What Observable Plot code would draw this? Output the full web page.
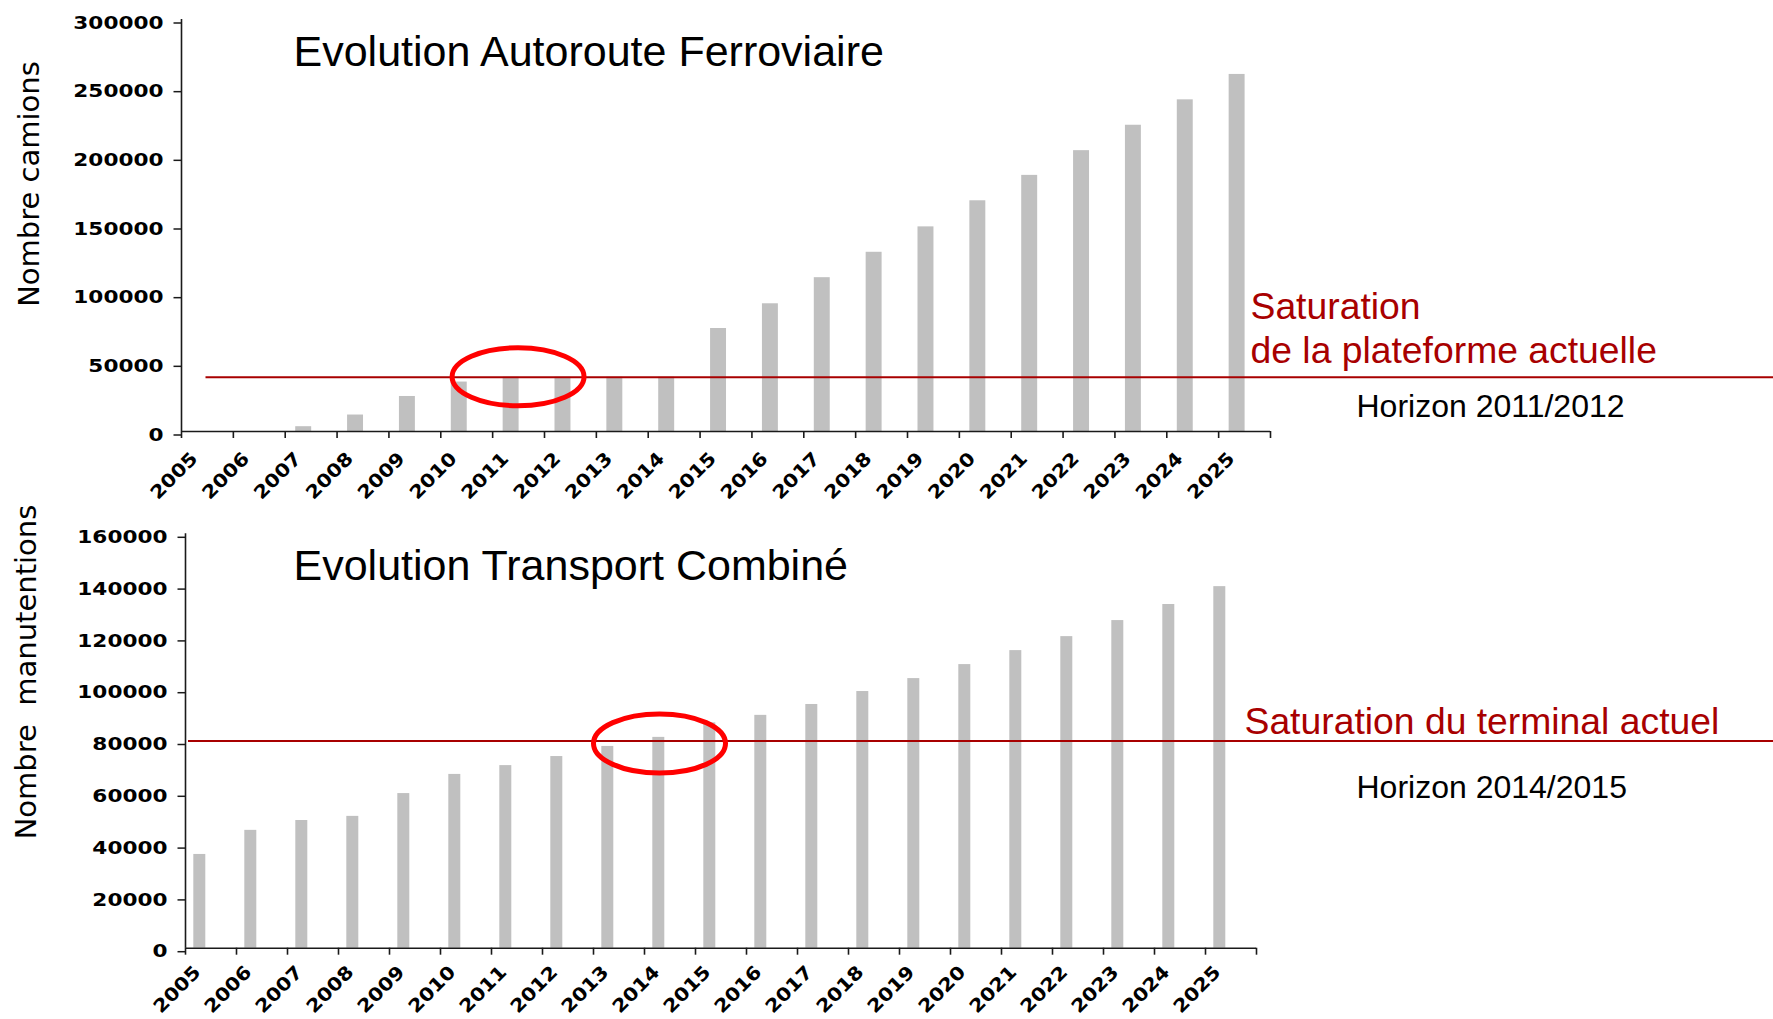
<!DOCTYPE html>
<html>
<head>
<meta charset="utf-8">
<script src="https://cdn.jsdelivr.net/npm/d3@7"></script>
<script src="https://cdn.jsdelivr.net/npm/@observablehq/plot@0.6"></script>
<style>
  html, body { margin: 0; padding: 0; background: #fff; }
  #wrap { position: relative; width: 1773px; height: 1019px; overflow: hidden; background: #fff; }
  #wrap svg { display: block; }
</style>
</head>
<body>
<div id="wrap"></div>
<script>
// ---------- data ----------
const years = ["2005","2006","2007","2008","2009","2010","2011","2012","2013","2014","2015",
               "2016","2017","2018","2019","2020","2021","2022","2023","2024","2025"];

// Autoroute Ferroviaire (nombre de camions)
const afValues = [0, 0, 3500, 12000, 25500, 36000, 39500, 39500, 39500, 39500, 75000,
                  93000, 112000, 130500, 149000, 168000, 186500, 204500, 223000, 241500, 260000];
const afTicks = [0, 50000, 100000, 150000, 200000, 250000, 300000];
const afMax = 300000;
const afThreshold = 39500;
const afTitle = "Evolution Autoroute Ferroviaire";
const afYLabel = "Nombre camions";
const afSatLabel = "Saturation\nde la plateforme actuelle";
const afHorizon = "Horizon 2011/2012";
const afCircleYear = "2011";

// Transport Combiné (nombre de manutentions)
const tcValues = [36200, 45500, 49300, 50900, 59700, 67100, 70500, 74000, 77900, 81400, 87000,
                  89900, 94100, 99100, 104100, 109500, 114900, 120300, 126500, 132700, 139600];
const tcTicks = [0, 20000, 40000, 60000, 80000, 100000, 120000, 140000, 160000];
const tcMax = 160000;
const tcThreshold = 80000;
const tcTitle = "Evolution Transport Combiné";
const tcYLabel = "Nombre  manutentions";
const tcSatLabel = "Saturation du terminal actuel";
const tcHorizon = "Horizon 2014/2015";
const tcCircleYear = "2014";

// ---------- styles ----------
const SANS = "'Liberation Sans', Arial, Helvetica, sans-serif";
const WIDE = "'DejaVu Sans', Verdana, sans-serif";
const BAR = "#c0c0c0";
const AXIS = "#1a1a1a";
const DARKRED = "#a80000";
const RED = "#ff0000";

function stretch(svg, label, s) {
  svg.querySelectorAll(`g[aria-label="${label}"] text`).forEach(t => {
    const tr = t.getAttribute("transform");
    if (tr) t.setAttribute("transform", tr + ` scale(${s},1)`);
  });
}

function chart(cfg) {
  const W = 1773;
  const bw = (W - cfg.ml - cfg.mr) / years.length;
  const data = years.map((year, i) => ({year, value: cfg.values[i]}));
  const last = years[years.length - 1];
  const plot = Plot.plot({
    width: W,
    height: cfg.height,
    marginLeft: cfg.ml,
    marginRight: cfg.mr,
    marginTop: cfg.mt,
    marginBottom: cfg.mb,
    style: {fontFamily: SANS, background: "#fff", color: "#000", overflow: "visible"},
    x: {type: "band", domain: years, padding: 0, round: false, label: null},
    y: {domain: [0, cfg.max], label: null},
    marks: [
      Plot.barY(data, {x: "year", y: "value", fill: BAR, insetLeft: cfg.barL, insetRight: cfg.barR}),
      // axis lines
      Plot.ruleY([0], {stroke: AXIS, strokeWidth: 1.6}),
      Plot.ruleX([years[0]], {y1: 0, y2: cfg.max, dx: -bw / 2, stroke: AXIS, strokeWidth: 1.6}),
      // x tick marks at category boundaries
      Plot.ruleX(years, {x: d => d, y1: 0, y2: 0, insetBottom: -7, dx: -bw / 2, stroke: AXIS, strokeWidth: 1.6}),
      Plot.ruleX([last], {x: d => d, y1: 0, y2: 0, insetBottom: -7, dx: bw / 2, stroke: AXIS, strokeWidth: 1.6}),
      Plot.axisY({
        ticks: cfg.ticks, tickSize: 7.5, tickPadding: 10.5, tickFormat: d3.format("d"),
        stroke: AXIS, strokeWidth: 1.5, fontSize: 18, fontWeight: "bold", fontFamily: WIDE, dy: 3.5
      }),
      Plot.axisX({
        tickSize: 0, tickPadding: cfg.xPad, tickRotate: -45, dx: cfg.xdx,
        fontSize: 18.5, fontWeight: "bold", fontFamily: WIDE
      }),
      // saturation threshold
      Plot.ruleY([cfg.threshold], {stroke: DARKRED, strokeWidth: 2, insetLeft: cfg.lineL, insetRight: -cfg.mr}),
      // title
      Plot.text([cfg.title], {text: d => d, frameAnchor: "top-left", textAnchor: "start", lineAnchor: "bottom",
        dx: cfg.titleDx, dy: 46, fontSize: 43, fontFamily: SANS, fill: "#000"}),
      // y label
      Plot.text([cfg.ylabel], {text: d => d, frameAnchor: "left", rotate: -90, textAnchor: "middle", lineAnchor: "middle",
        dx: cfg.ylDx, dy: cfg.ylDy, fontSize: 29, fontFamily: WIDE, fill: "#000"}),
      // saturation label
      Plot.text([cfg.threshold], {y: d => d, text: () => cfg.sat, frameAnchor: "right", textAnchor: "start",
        lineAnchor: "bottom", lineHeight: 1.19, dx: cfg.satDx, dy: cfg.satDy, fontSize: 37.3, fontFamily: SANS, fill: DARKRED}),
      // horizon label
      Plot.text([cfg.threshold], {y: d => d, text: () => cfg.horizon, frameAnchor: "right", textAnchor: "start",
        lineAnchor: "bottom", dx: cfg.horDx, dy: cfg.horDy, fontSize: 32, fontFamily: SANS, fill: "#000"})
    ]
  });
  stretch(plot, "y-axis tick label", 1.2);
  stretch(plot, "x-axis tick label", 1.12);
  // highlight ellipse placed through the plot's scales
  const sx = plot.scale("x"), sy = plot.scale("y");
  d3.select(plot).append("ellipse")
    .attr("cx", sx.apply(cfg.circleYear) + sx.bandwidth / 2 + cfg.ellDx)
    .attr("cy", sy.apply(cfg.threshold) + cfg.ellDy)
    .attr("rx", 66).attr("ry", cfg.ry)
    .attr("fill", "none").attr("stroke", RED).attr("stroke-width", 5);
  return plot;
}

const wrap = document.getElementById("wrap");
wrap.appendChild(chart({
  values: afValues, ticks: afTicks, max: afMax, threshold: afThreshold,
  title: afTitle, ylabel: afYLabel, sat: afSatLabel, horizon: afHorizon, circleYear: afCircleYear,
  height: 500, ml: 181, mr: 503, mt: 19, mb: 69,
  barL: 10.5, barR: 25.4, xPad: 24, xdx: -13, lineL: 24.5,
  titleDx: 112, ylDx: -152, ylDy: -41.5,
  satDx: -20, satDy: -14, horDx: 86, horDy: 40,
  ellDx: 0, ellDy: 0, ry: 29
}));
wrap.appendChild(chart({
  values: tcValues, ticks: tcTicks, max: tcMax, threshold: tcThreshold,
  title: tcTitle, ylabel: tcYLabel, sat: tcSatLabel, horizon: tcHorizon, circleYear: tcCircleYear,
  height: 519, ml: 185, mr: 517, mt: 33.3, mb: 71.3,
  barL: 8.3, barR: 30.7, xPad: 21, xdx: -13.5, lineL: 3,
  titleDx: 108, ylDx: -159, ylDy: -69,
  satDx: -12, satDy: -7.5, horDx: 100, horDy: 57,
  ellDx: -10, ellDy: 3, ry: 29.5
}));
</script>
</body>
</html>
